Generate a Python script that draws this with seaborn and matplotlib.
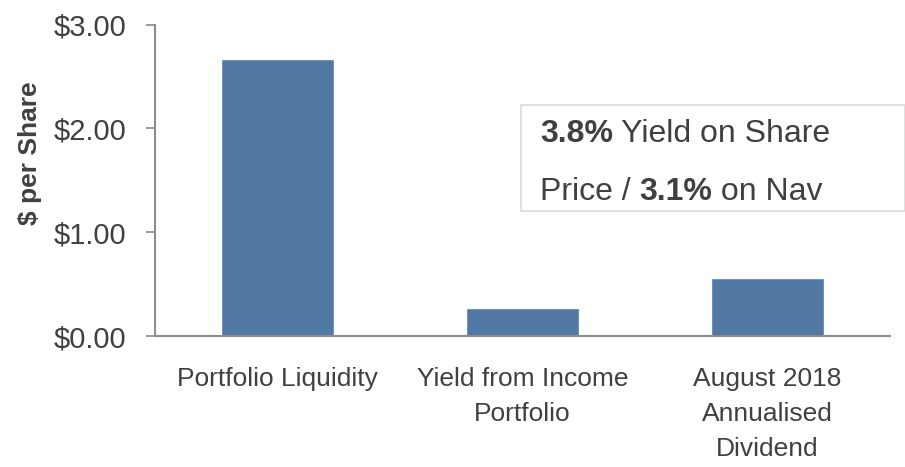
import matplotlib
matplotlib.use("Agg")
import matplotlib.pyplot as plt
import seaborn as sns
import pandas as pd
from matplotlib.patches import Rectangle

categories = ["Portfolio Liquidity", "Yield from Income\nPortfolio", "August 2018\nAnnualised\nDividend"]
values = [2.67, 0.27, 0.56]
y_ticks = [0.0, 1.0, 2.0, 3.0]
y_tick_labels = ["$0.00", "$1.00", "$2.00", "$3.00"]

sns.set_theme(style="white")
plt.rcParams["font.family"] = ["Liberation Sans Narrow", "Liberation Sans", "DejaVu Sans"]

TEXT = "#404040"
AXIS = "#8c8c8c"
BAR = "#5279A3"

df = pd.DataFrame({"category": categories, "value": values})

fig = plt.figure(figsize=(9.05, 4.67), dpi=100)
ax = fig.add_axes([155 / 905, 1 - 336 / 467, 735 / 905, (336 - 24.7) / 467])

sns.barplot(data=df, x="category", y="value", color=BAR, width=0.46,
            saturation=1, ax=ax)

ax.set_ylim(0, 3)
ax.set_xlim(-0.5, 2.5)
ax.set_yticks(y_ticks)
ax.set_yticklabels(y_tick_labels)
ax.set_xlabel("")
ax.set_ylabel("$ per Share", fontsize=19, fontweight="bold", color=TEXT)
ax.yaxis.set_label_coords((42 - 155) / 735, (336 - 153) / (336 - 24.7))

for side in ["top", "right"]:
    ax.spines[side].set_visible(False)
for side in ["left", "bottom"]:
    ax.spines[side].set_color(AXIS)
    ax.spines[side].set_linewidth(1.5)

ax.tick_params(axis="y", which="both", left=True, length=6.5, width=1.2,
               color=AXIS, labelsize=21, labelcolor=TEXT, pad=14)
ax.tick_params(axis="x", which="both", bottom=False, labelsize=19,
               labelcolor=TEXT, pad=16)
for lbl in ax.get_xticklabels():
    lbl.set_linespacing(1.6)
    lbl.set_ha("center")
    lbl.set_va("top")

# Callout box with yield figures
box = Rectangle((521 / 905, 1 - 211 / 467), (905 - 521) / 905, (211 - 105) / 467,
                transform=fig.transFigure, facecolor="white", edgecolor="#d9d9d9",
                linewidth=1.2, zorder=5)
fig.add_artist(box)

line1 = [("3.8%", "bold"), (" Yield on Share", "normal")]
line2 = [("Price / ", "normal"), ("3.1%", "bold"), (" on Nav", "normal")]


def place(parts, x_px, base_px, size=23):
    """Write a line of mixed-weight text, each run starting where the last ended."""
    renderer = fig.canvas.get_renderer()
    x = x_px
    for txt, weight in parts:
        t = fig.text(x / 905, 1 - base_px / 467, txt, fontsize=size, fontweight=weight,
                     color=TEXT, ha="left", va="baseline", zorder=6)
        bb = t.get_window_extent(renderer=renderer)
        x = bb.x1


place(line1, 540, 142)
place(line2, 540, 200)

fig.savefig("out.png", dpi=100, facecolor="white")
